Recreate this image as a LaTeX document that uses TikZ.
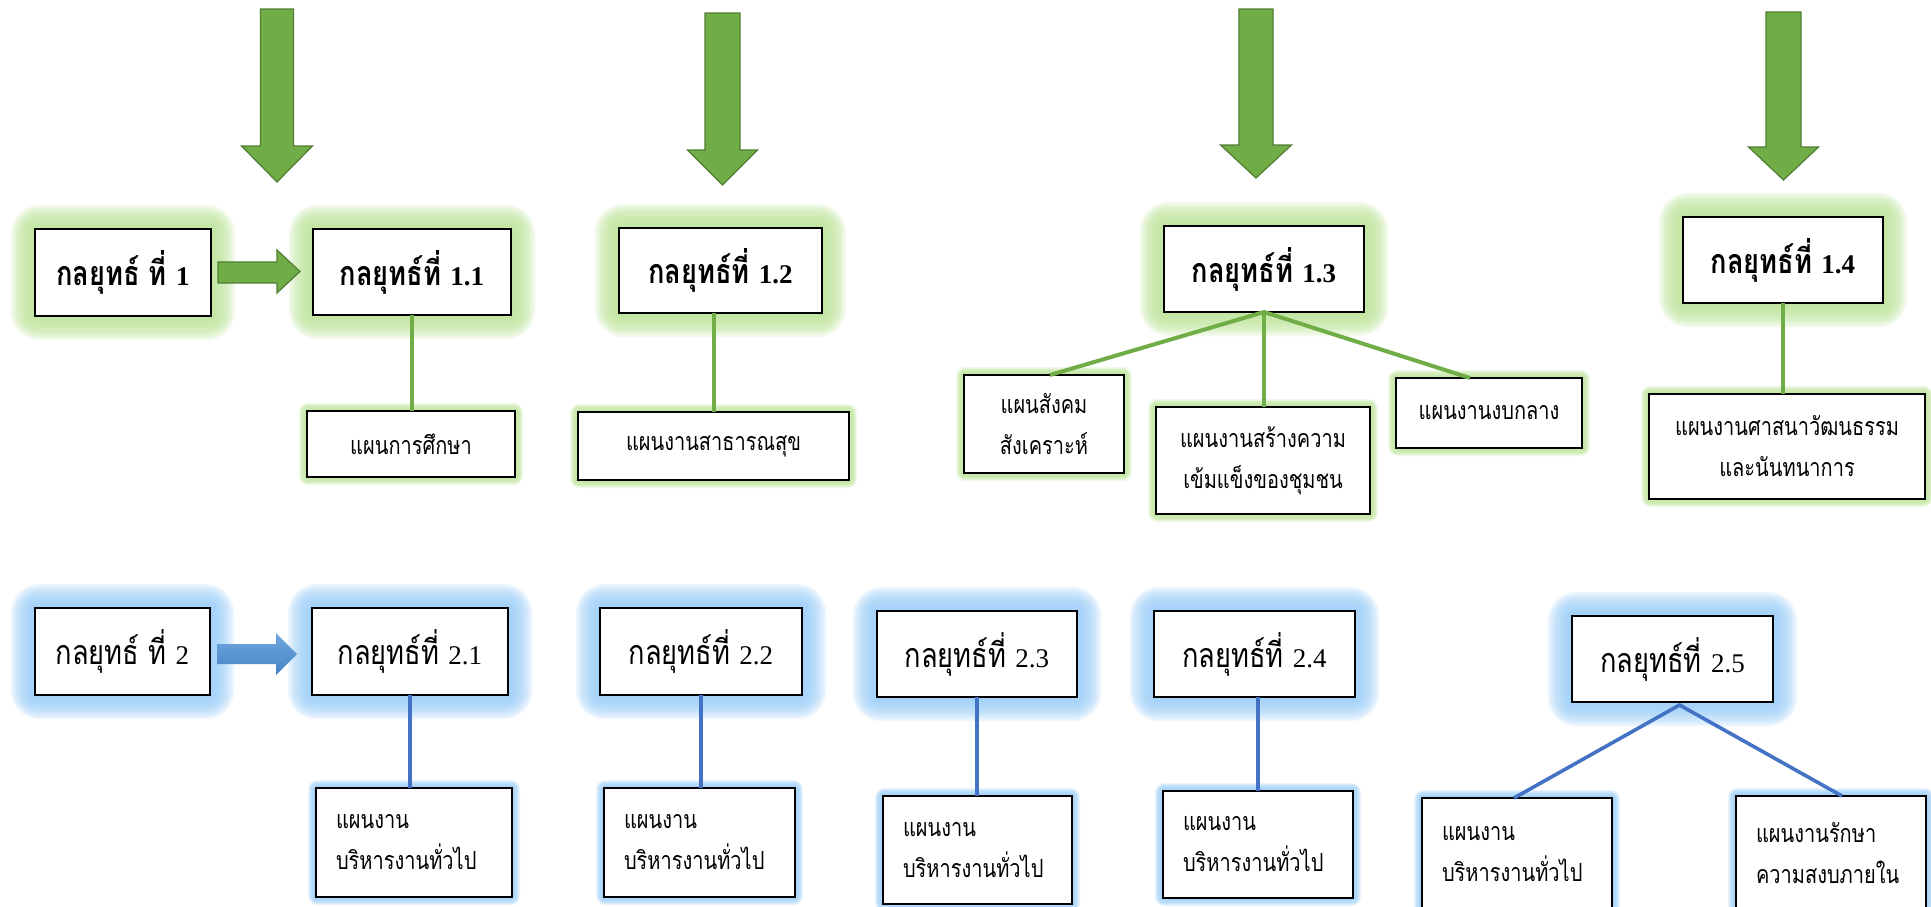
\documentclass[tikz,border=0pt]{standalone}
\usepackage{fontspec}
\newfontfamily\thai[Script=Thai,FakeStretch=0.8]{Loma}
\newfontfamily\lat{Liberation Serif}
\usetikzlibrary{calc,backgrounds}
\definecolor{gline}{RGB}{112,173,71}
\definecolor{gedge}{RGB}{80,126,50}
\definecolor{bline}{RGB}{68,114,196}
\definecolor{gglow}{RGB}{190,229,154}
\definecolor{bglow}{RGB}{157,207,249}
\definecolor{bA}{RGB}{112,168,222}
\definecolor{bB}{RGB}{70,130,198}
\newcommand\nm[1]{{\lat\fontsize{13.5}{20}\selectfont #1}}
\tikzset{
  box/.style={draw=black, line width=0.9pt, fill=white, inner sep=0pt, outer sep=0pt, align=center},
  titleB/.style={box, font=\thai\bfseries\fontsize{17}{20}\selectfont},
  titleR/.style={box, font=\thai\fontsize{17}{20}\selectfont},
  plan/.style={box, font=\thai\fontsize{12.5}{20.5}\selectfont},
  gconn/.style={draw=gline, line width=2pt},
  bconn/.style={draw=bline, line width=1.8pt},
  bigarrow/.style={fill=gline, draw=gedge, line width=0.6pt},
}
\newcommand\bx[7]{%
  \pgfmathsetmacro\bw{(#4-#2)*0.5}%
  \pgfmathsetmacro\bh{(#5-#3)*0.5}%
  \node[#6, minimum width=\bw pt, minimum height=\bh pt] (#1) at ({(#2+#4)/2},{(#3+#5)/2}) {#7};}
\newcommand\bxl[6]{%
  \pgfmathsetmacro\bw{(#4-#2)*0.5-20}%
  \pgfmathsetmacro\bh{(#5-#3)*0.5}%
  \node[plan, align=left, inner xsep=10pt, text width=\bw pt, minimum height=\bh pt] (#1) at ({(#2+#4)/2},{(#3+#5)/2}) {#6};}
\newcommand\glow[3]{%
  \foreach \k in {1,...,10}{%
    \fill[#2, opacity=0.2, rounded corners=\k*#3*0.06pt] ($(#1.south west)+({-\k*#3/10},{\k*#3/10})$) rectangle ($(#1.north east)+({\k*#3/10},{-\k*#3/10})$);
  }}
\newcommand\darrow[6]{%
  \filldraw[bigarrow] ({#1-#3},#2) -- ({#1+#3},#2) -- ({#1+#3},#4) -- ({#1+#5},#4) -- (#1,#6) -- ({#1-#5},#4) -- ({#1-#3},#4) -- cycle;}
\begin{document}
\begin{tikzpicture}[x=0.5pt,y=-0.5pt]
\useasboundingbox (0,0) rectangle (1931,906);
\begin{pgfonlayer}{background}
\fill[white] (0,0) rectangle (1931,906);
\end{pgfonlayer}
\begin{scope}
\clip (0,0) rectangle (1931,906);
% big down arrows
\darrow{277}{9}{16.5}{146}{35.5}{182}
\darrow{722.5}{13}{17.5}{150}{35}{185}
\darrow{1256}{9}{17}{145}{35.5}{178}
\darrow{1783.5}{12}{17.5}{147}{35}{180}

% row 1 titles
\bx{s1}{35}{229}{211}{316}{titleB}{กลยุทธ์ ที่ \nm{1}}
\bx{s11}{313}{229}{511}{315}{titleB}{กลยุทธ์ที่ \nm{1.1}}
\bx{s12}{619}{228}{822}{313}{titleB}{กลยุทธ์ที่ \nm{1.2}}
\bx{s13}{1164}{226}{1364}{312}{titleB}{กลยุทธ์ที่ \nm{1.3}}
\bx{s14}{1683}{217}{1883}{303}{titleB}{กลยุทธ์ที่ \nm{1.4}}
% row 1 plans
\bx{p11}{307}{411}{515}{477}{plan}{แผนการศึกษา}
\bx{p12}{578}{412}{849}{480}{plan}{แผนงานสาธารณสุข}
\bx{p13a}{964}{375}{1124}{473}{plan}{แผนสังคม\\สังเคราะห์}
\bx{p13b}{1156}{407}{1370}{514}{plan}{แผนงานสร้างความ\\เข้มแข็งของชุมชน}
\bx{p13c}{1396}{378}{1582}{448}{plan}{แผนงานงบกลาง}
\bx{p14}{1649}{394}{1925}{499}{plan}{แผนงานศาสนาวัฒนธรรม\\และนันทนาการ}

% row 2 titles
\bx{s2}{35}{608}{210}{695}{titleR}{กลยุทธ์ ที่ \nm{2}}
\bx{s21}{312}{608}{508}{695}{titleR}{กลยุทธ์ที่ \nm{2.1}}
\bx{s22}{600}{608}{802}{695}{titleR}{กลยุทธ์ที่ \nm{2.2}}
\bx{s23}{877}{611}{1077}{697}{titleR}{กลยุทธ์ที่ \nm{2.3}}
\bx{s24}{1154}{611}{1355}{697}{titleR}{กลยุทธ์ที่ \nm{2.4}}
\bx{s25}{1572}{616}{1773}{702}{titleR}{กลยุทธ์ที่ \nm{2.5}}
% row 2 plans
\bxl{b21}{316}{788}{512}{897}{แผนงาน\\บริหารงานทั่วไป}
\bxl{b22}{604}{788}{795}{897}{แผนงาน\\บริหารงานทั่วไป}
\bxl{b23}{883}{796}{1072}{904}{แผนงาน\\บริหารงานทั่วไป}
\bxl{b24}{1163}{791}{1353}{898}{แผนงาน\\บริหารงานทั่วไป}
\bxl{b25a}{1422}{798}{1612}{910}{แผนงาน\\บริหารงานทั่วไป}
\bxl{b25b}{1736}{796}{1926}{910}{แผนงานรักษา\\ความสงบภายใน}

% side arrows
\filldraw[bigarrow] (218,262) -- (277,262) -- (277,250) -- (300,271.5) -- (277,293) -- (277,283) -- (218,283) -- cycle;
\path[top color=bA, bottom color=bB] (217,644) -- (276,644) -- (276,633) -- (297,654) -- (276,675) -- (276,664) -- (217,664) -- cycle;

% connectors row 1
\draw[gconn] (s11.south) -- (s11.south |- p11.north);
\draw[gconn] (p12.north) -- (p12.north |- s12.south);
\coordinate (p13aT) at ($(p13a.north)+(6,0)$);
\coordinate (p13cT) at ($(p13c.north)+(-19,0)$);
\draw[gconn] (p13aT) -- (s13.south) -- (p13cT);
\draw[gconn] (s13.south) -- (s13.south |- p13b.north);
\draw[gconn] (s14.south) -- (s14.south |- p14.north);
% connectors row 2
\draw[bconn] (s21.south) -- (s21.south |- b21.north);
\draw[bconn] (s22.south) -- (s22.south |- b22.north);
\draw[bconn] (s23.south) -- (s23.south |- b23.north);
\draw[bconn] (b24.north) -- (b24.north |- s24.south);
\coordinate (s25B) at ($(s25.south)+(7,3)$);
\coordinate (b25aT) at ($(b25a.north)+(-3,0)$);
\coordinate (b25bT) at ($(b25b.north)+(11,0)$);
\draw[bconn] (b25aT) -- (s25B) -- (b25bT);
\end{scope}

\begin{pgfonlayer}{background}
\foreach \n in {s1,s11,s12,s13,s14}{\glow{\n}{gglow}{24}}
\foreach \n in {p11,p12,p13a,p13b,p13c,p14}{\glow{\n}{gglow}{8}}
\foreach \n in {s2,s21,s22,s23,s24,s25}{\glow{\n}{bglow}{24}}
\foreach \n in {b21,b22,b23,b24,b25a,b25b}{\glow{\n}{bglow}{8}}
\end{pgfonlayer}
\end{tikzpicture}
\end{document}
